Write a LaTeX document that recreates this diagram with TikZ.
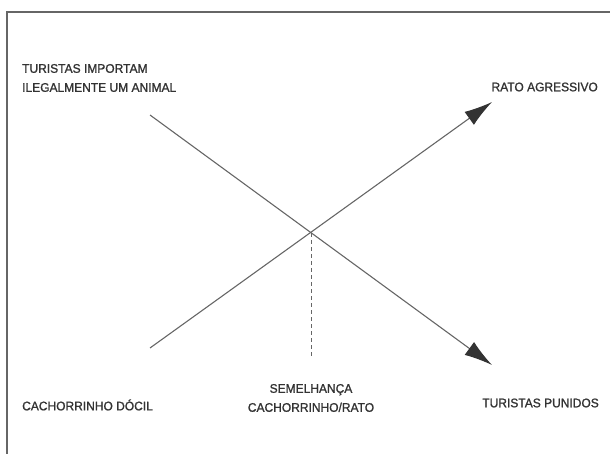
\documentclass[tikz,border=0pt]{standalone}
\usepackage{fontspec}
\setmainfont[FakeStretch=0.96,FakeBold=1.2]{Liberation Sans}
\usetikzlibrary{arrows.meta}
\definecolor{ink}{HTML}{333333}
\definecolor{linec}{HTML}{666666}
\begin{document}
\begin{tikzpicture}[x=1pt,y=-1pt,
  lbl/.style={font=\fontsize{12.5}{19}\selectfont, text=ink, inner sep=0pt, align=left},
  conn/.style={draw=linec, line width=1.1pt},
  arr/.style={conn, -{Latex[length=28pt,width=16pt,fill=ink,color=ink]}}]
\useasboundingbox (0,0) rectangle (610,454);
\draw[draw=linec, line width=1.3pt] (7,454) -- (7,12) -- (610,12);
\coordinate (a1) at (150,115);
\coordinate (a2) at (492,365);
\coordinate (b1) at (150,348);
\coordinate (b2) at (492,102);
\coordinate (x) at (311,233);
\coordinate (d) at (311,358);
\draw[arr] (a1) -- (a2);
\draw[arr] (b1) -- (b2);
\draw[draw=linec, line width=1pt, dash pattern=on 4pt off 3pt] (x) -- (d);
\node[lbl, anchor=west] (t1) at (22,78) {TURISTAS IMPORTAM\\ILEGALMENTE UM ANIMAL};
\node[lbl, anchor=east] (t2) at (598,87) {RATO AGRESSIVO};
\node[lbl, anchor=west] (t3) at (22,405) {CACHORRINHO DÓCIL};
\node[lbl, align=center] (t4) at (311,398) {SEMELHANÇA\\CACHORRINHO/RATO};
\node[lbl, anchor=east] (t5) at (599,403) {TURISTAS PUNIDOS};
\end{tikzpicture}
\end{document}
